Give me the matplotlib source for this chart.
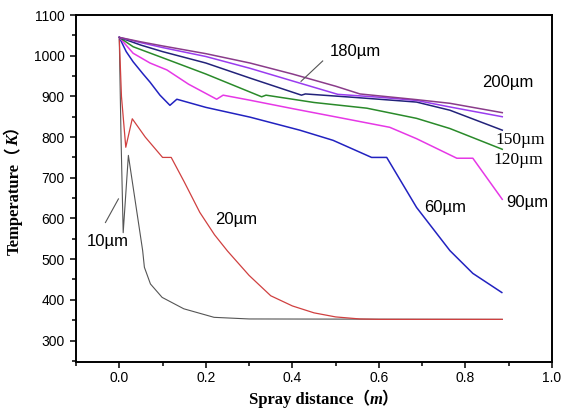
import matplotlib
matplotlib.use("Agg")
import matplotlib.pyplot as plt
from matplotlib.ticker import MultipleLocator

plt.rcParams["font.family"] = ["Liberation Sans", "DejaVu Sans"]

# spray distance (m) / temperature (K)
x_200 = [0, 0.05, 0.1, 0.2, 0.302, 0.4, 0.5, 0.556, 0.687, 0.764, 0.885]
t_200 = [1045, 1034, 1024, 1005, 982, 955, 925, 906, 892, 883, 860]

x_180 = [0, 0.05, 0.1, 0.2, 0.302, 0.4, 0.505, 0.6, 0.687, 0.764, 0.885]
t_180 = [1045, 1032, 1020, 998, 969, 938, 905, 898, 890, 874, 850]

x_150 = [0, 0.05, 0.1, 0.2, 0.302, 0.421, 0.43, 0.55, 0.65, 0.687, 0.764, 0.885]
t_150 = [1045, 1026, 1010, 982, 945, 903, 906, 897, 889, 886, 866, 817]

x_120 = [0, 0.032, 0.1, 0.2, 0.329, 0.339, 0.45, 0.572, 0.687, 0.764, 0.885]
t_120 = [1045, 1022, 995, 955, 899, 903, 885, 871, 846, 821, 770]

x_90 = [0, 0.032, 0.071, 0.11, 0.16, 0.225, 0.24, 0.3, 0.4, 0.503, 0.625, 0.687, 0.78, 0.817, 0.885]
t_90 = [1045, 1006, 982, 965, 930, 893, 903, 891, 870, 849, 824, 796, 748, 748, 647]

x_60 = [0, 0.016, 0.032, 0.055, 0.071, 0.094, 0.117, 0.133, 0.2, 0.302, 0.417,
        0.494, 0.583, 0.618, 0.687, 0.764, 0.817, 0.884]
t_60 = [1045, 1010, 985, 955, 935, 903, 878, 893, 873, 849, 817,
        792, 750, 750, 627, 521, 465, 418]

x_20 = [0, 0.005, 0.015, 0.03, 0.06, 0.1, 0.12, 0.15, 0.186, 0.22, 0.25, 0.3,
        0.35, 0.4, 0.45, 0.5, 0.556, 0.6, 0.885]
t_20 = [1043, 900, 775, 845, 800, 750, 750, 690, 615, 560, 520, 460,
        410, 385, 368, 358, 353, 352, 352]

x_10 = [0, 0.004, 0.009, 0.021, 0.054, 0.058, 0.072, 0.099, 0.149, 0.219, 0.3, 0.885]
t_10 = [1040, 800, 565, 755, 521, 480, 439, 406, 378, 357, 353, 352]

W, H = 561, 411
fig = plt.figure(figsize=(W / 100, H / 100), dpi=100)
ax = fig.add_axes([0.1355, 0.119, 0.8485, 0.8445])

ax.plot(x_10, t_10, color="#555555", lw=0.8)
ax.plot(x_20, t_20, color="#d04040", lw=0.9)
ax.plot(x_60, t_60, color="#2222c0", lw=1.1)
ax.plot(x_90, t_90, color="#e638e6", lw=1.1)
ax.plot(x_120, t_120, color="#2a8a2a", lw=1.1)
ax.plot(x_150, t_150, color="#22227a", lw=1.1)
ax.plot(x_180, t_180, color="#9a3cf0", lw=1.1)
ax.plot(x_200, t_200, color="#8a3c8a", lw=1.1)

ax.set_xlim(-0.1, 1.0)
ax.set_ylim(247, 1100)
ax.xaxis.set_major_locator(MultipleLocator(0.2))
ax.xaxis.set_minor_locator(MultipleLocator(0.1))
ax.yaxis.set_major_locator(MultipleLocator(100))
ax.yaxis.set_minor_locator(MultipleLocator(50))
ax.tick_params(which="both", direction="out", top=False, right=False, width=1.1, labelsize=10)
ax.tick_params(which="major", length=4.5)
ax.tick_params(which="minor", length=3)
ax.tick_params(axis="x", pad=2)
for s in ax.spines.values():
    s.set_linewidth(1.4)

# axis titles: Times-like bold text, full-width brackets fall back to the CJK font,
# the unit letter in bold italic placed right after the first part
fams = ["Liberation Serif", "Noto Sans CJK SC"]
plain = dict(family=fams, weight="bold", fontsize=12)
ital = dict(family=fams, weight="bold", style="italic", fontsize=12)
renderer = fig.canvas.get_renderer()

xb = 1 - 404.3 / H
t1 = fig.text(249 / W, xb, "Spray distance（", ha="left", va="baseline", **plain)
bb = t1.get_window_extent(renderer)
fig.text(bb.x1 / W, xb, "m）", ha="left", va="baseline", **ital)

yb = 18.3 / W
rot = dict(rotation=90, rotation_mode="anchor", va="baseline", ha="left")
t2 = fig.text(yb, 1 - 255 / H, "Temperature（", **rot, **plain)
bb = t2.get_window_extent(renderer)
fig.text(yb, bb.y1 / H, "K）", **rot, **ital)

sans = dict(fontsize=12, ha="center", va="center")
ax.text(0.545, 1011, "180µm", **sans)
ax.plot([0.47, 0.42], [987, 937], color="#555555", lw=0.8)
ax.text(0.898, 935, "200µm", **sans)
ax.text(0.926, 792, "150µm", family="Liberation Serif", fontsize=12.5, ha="center", va="center")
ax.text(0.921, 743, "120µm", family="Liberation Serif", fontsize=12.5, ha="center", va="center")
ax.text(0.944, 640, "90µm", **sans)
ax.text(0.752, 627, "60µm", **sans)
ax.text(0.269, 598, "20µm", **sans)
ax.text(-0.027, 543, "10µm", **sans)
ax.plot([-0.032, -0.002], [590, 648], color="#555555", lw=0.8)

fig.savefig("out.png", dpi=100)
